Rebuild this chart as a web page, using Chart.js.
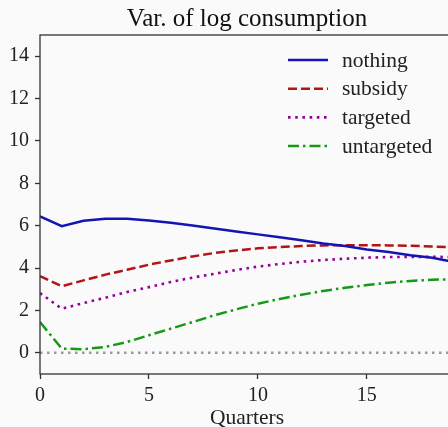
<!DOCTYPE html>
<html>
<head>
<meta charset="utf-8">
<script src="https://cdn.jsdelivr.net/npm/chart.js@4"></script>
<style>
  html, body { margin: 0; padding: 0; background: #fafafa; overflow: hidden; }
  #wrap { width: 454px; height: 427px; }
</style>
</head>
<body>
<div id="wrap"><canvas id="varChart"></canvas></div>
<script>
// quarters after the shock
const quarters = [0, 1, 2, 3, 4, 5, 6, 7, 8, 9, 10, 11, 12, 13, 14, 15, 16, 17, 18, 19];

// variance of log consumption per policy
const nothing = [6.44, 5.98, 6.23, 6.33, 6.33, 6.25, 6.14, 6.01, 5.87, 5.73, 5.59, 5.45, 5.31, 5.16, 5.04, 4.88, 4.76, 4.61, 4.49, 4.29];
const subsidy = [3.62, 3.14, 3.42, 3.69, 3.92, 4.16, 4.36, 4.55, 4.71, 4.83, 4.93, 4.99, 5.04, 5.07, 5.08, 5.08, 5.07, 5.05, 5.02, 4.98];
const targeted = [2.82, 2.08, 2.35, 2.60, 2.87, 3.10, 3.34, 3.55, 3.73, 3.91, 4.07, 4.19, 4.30, 4.38, 4.44, 4.49, 4.52, 4.53, 4.53, 4.52];
const untargeted = [1.45, 0.20, 0.17, 0.28, 0.51, 0.83, 1.14, 1.45, 1.77, 2.05, 2.32, 2.54, 2.74, 2.92, 3.07, 3.20, 3.31, 3.39, 3.45, 3.47];

const xTicks = [0, 5, 10, 15];
const yTicks = [0, 2, 4, 6, 8, 10, 12, 14];

const serif = "'Liberation Serif', 'DejaVu Serif', serif";

function toPoints(values) {
    return values.map((v, i) => ({ x: quarters[i], y: v }));
}

// background, frame and the inside legend
const framePlugin = {
    id: 'frame',
    beforeDraw(chart) {
        const ctx = chart.ctx;
        ctx.save();
        ctx.fillStyle = '#fafafa';
        ctx.fillRect(0, 0, chart.width, chart.height);
        ctx.restore();
    },
    afterDraw(chart) {
        const ctx = chart.ctx;
        const a = chart.chartArea;
        ctx.save();
        ctx.strokeStyle = '#333';
        ctx.lineWidth = 1.3;
        ctx.strokeRect(a.left, a.top, a.right - a.left, a.bottom - a.top);

        // legend
        ctx.font = '21.5px ' + serif;
        ctx.textBaseline = 'middle';
        ctx.fillStyle = '#222';
        const rows = chart.data.datasets.filter(d => d.label);
        rows.forEach((d, i) => {
            const y = 60 + i * 28.7;
            ctx.beginPath();
            ctx.strokeStyle = d.borderColor;
            ctx.lineWidth = d.borderWidth;
            ctx.setLineDash(d.borderDash || []);
            ctx.moveTo(288, y);
            ctx.lineTo(328, y);
            ctx.stroke();
            ctx.setLineDash([]);
            ctx.fillText(d.label, 342, y + 1);
        });
        ctx.restore();
    }
};

const ctx = document.getElementById('varChart').getContext('2d');
new Chart(ctx, {
    type: 'line',
    data: {
        datasets: [
            {
                label: '',
                data: [{ x: 0, y: 0 }, { x: 19, y: 0 }],
                borderColor: '#9a9a9a',
                borderWidth: 2.5,
                borderDash: [2.5, 4.5],
                pointRadius: 0
            },
            {
                label: 'nothing',
                data: toPoints(nothing),
                borderColor: '#1414b4',
                borderWidth: 2.5,
                pointRadius: 0
            },
            {
                label: 'subsidy',
                data: toPoints(subsidy),
                borderColor: '#b41414',
                borderWidth: 2.5,
                borderDash: [9, 4],
                pointRadius: 0
            },
            {
                label: 'targeted',
                data: toPoints(targeted),
                borderColor: '#990099',
                borderWidth: 2.6,
                borderDash: [2.6, 4.6],
                pointRadius: 0
            },
            {
                label: 'untargeted',
                data: toPoints(untargeted),
                borderColor: '#149a14',
                borderWidth: 2.5,
                borderDash: [11, 4, 2.5, 4],
                pointRadius: 0
            }
        ]
    },
    options: {
        responsive: true,
        maintainAspectRatio: false,
        animation: false,
        layout: { padding: 0 },
        plugins: {
            legend: { display: false },
            tooltip: { enabled: false },
            title: {
                display: true,
                fullSize: false,
                text: 'Var. of log consumption',
                color: '#111',
                font: { family: serif, size: 25, weight: 'normal', lineHeight: 1.2 },
                padding: { top: 4, bottom: 1 }
            }
        },
        scales: {
            x: {
                type: 'linear',
                min: 0,
                max: 19,
                afterFit(scale) { scale.height = 53; },
                afterBuildTicks(scale) { scale.ticks = xTicks.map(v => ({ value: v })); },
                grid: { drawOnChartArea: false, drawTicks: true, tickLength: 5, color: '#333', tickWidth: 1.3 },
                border: { display: false },
                ticks: { color: '#222', padding: 5, maxRotation: 0, font: { family: serif, size: 20 } },
                title: {
                    display: true,
                    text: 'Quarters',
                    color: '#222',
                    font: { family: serif, size: 21.5 },
                    padding: { top: 6, bottom: -4 }
                }
            },
            y: {
                min: -1,
                max: 15,
                afterFit(scale) { scale.width = 40; },
                afterBuildTicks(scale) { scale.ticks = yTicks.map(v => ({ value: v })); },
                grid: { drawOnChartArea: false, drawTicks: true, tickLength: 5, color: '#333', tickWidth: 1.3 },
                border: { display: false },
                ticks: { color: '#222', padding: 6, font: { family: serif, size: 20 } }
            }
        }
    },
    plugins: [framePlugin]
});
</script>
</body>
</html>
